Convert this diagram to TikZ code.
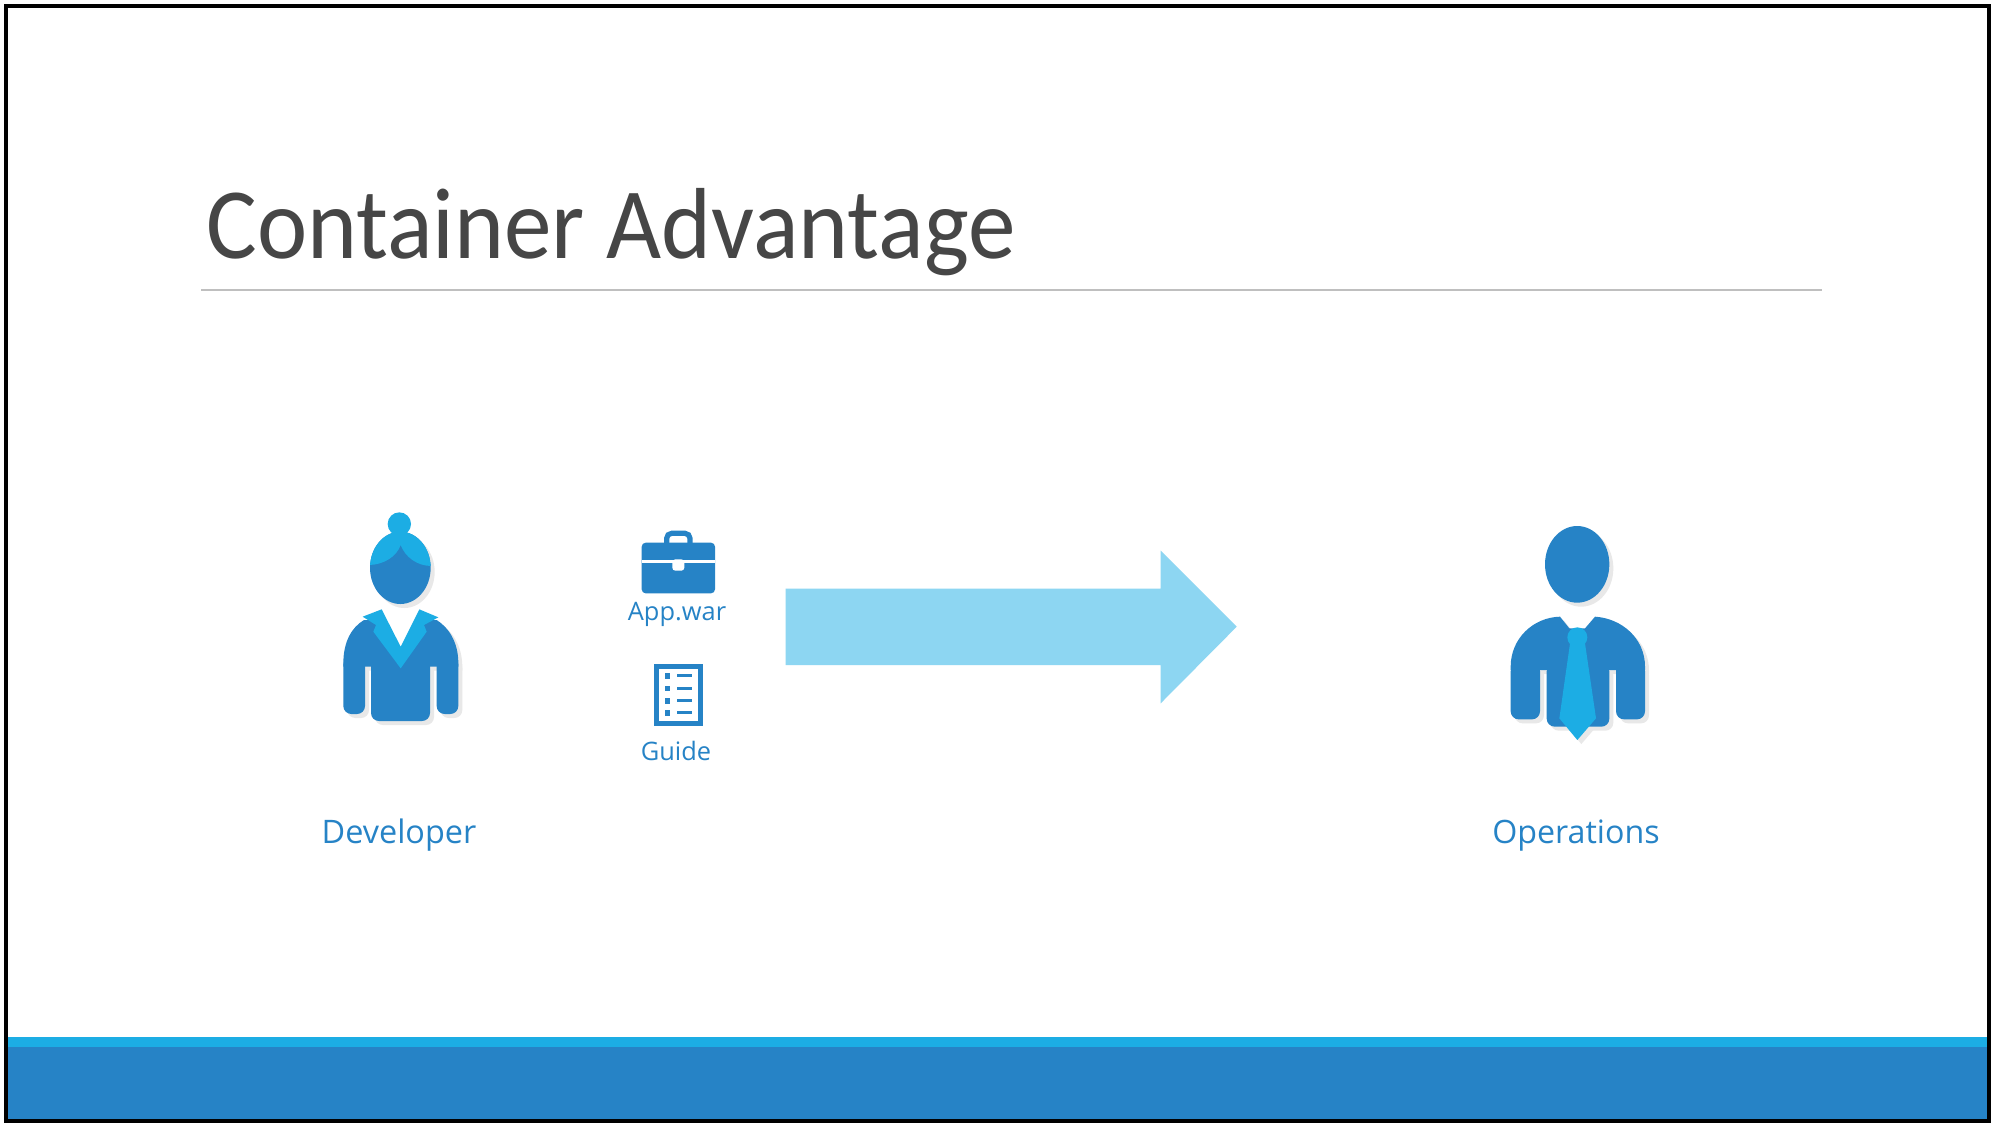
\documentclass[tikz,border=0pt]{standalone}
\usepackage{fontspec}
\setmainfont{Open Sans}
\newfontfamily\titlefont[FakeStretch=0.942]{Carlito}
\definecolor{dkblue}{HTML}{2683C6}
\definecolor{ltblue}{HTML}{1CADE4}
\definecolor{arrowblue}{HTML}{8DD6F2}
\definecolor{titlegray}{HTML}{464646}
\definecolor{rulegray}{HTML}{BFBFBF}
\definecolor{shadowgray}{HTML}{E8E8E8}
\tikzset{
  lbl/.style={text=dkblue,inner sep=0pt,anchor=center},
  zoomA/.style={shift={(300,490)},x=0.16667pt,y=-0.16667pt},
  zoomB/.style={shift={(1470,500)},x=0.16667pt,y=-0.16667pt},
  zoomC/.style={shift={(610,510)},x=0.16667pt,y=-0.16667pt},
  limb/.style={rounded corners=4pt},
}
% figure silhouettes, in crop coordinates
\newcommand{\devfigure}[1]{%
  \fill[#1] (130,520) .. controls (130,455) and (155,412) .. (192,390) -- (245,390) -- (302,500) -- (358,390) -- (410,390)
     .. controls (445,412) and (475,455) .. (475,520) -- (475,530) -- (130,530) -- cycle;
  \fill[#1,limb] (130,500) rectangle (195,672);
  \fill[#1,limb] (410,500) rectangle (475,672);
  \fill[#1,limb] (213,500) rectangle (390,693);
  \fill[#1] (301,233.5) ellipse (91 and 108.5);
}
\newcommand{\opsfigure}[1]{%
  \fill[#1] (122,500) .. controls (122,415) and (190,352) .. (270,350) -- (298,385) -- (345,385) -- (375,350)
     .. controls (455,355) and (525,415) .. (525,500) -- (525,510) -- (122,510) -- cycle;
  \fill[#1,limb] (122,490) rectangle (210,658);
  \fill[#1,limb] (438,490) rectangle (525,658);
  \fill[#1,limb] (230,490) rectangle (418,680);
  \fill[#1] (321.5,193) ellipse (96.5 and 115);
}
\begin{document}
\begin{tikzpicture}[x=0.5pt,y=-0.5pt]
\useasboundingbox (0,0) rectangle (1996,1130);
\fill[white] (0,0) rectangle (1996,1130);
% footer
\fill[ltblue] (6,1037) rectangle (1989,1048);
\fill[dkblue] (6,1047) rectangle (1989,1121);
% frame
\draw[black,line width=2.2pt] (6,6) rectangle (1989,1121);
% title
\node[anchor=base west,inner sep=0pt,text=titlegray,font=\titlefont\fontsize{50.5}{60}\selectfont] (title) at (206,258) {Container Advantage};
\draw[rulegray,line width=0.6pt] (201,290) -- (1822,290);

% developer
\begin{scope}[zoomA]
  \begin{scope}[shift={(12,12)}] \devfigure{shadowgray} \end{scope}
  \devfigure{dkblue}
  \begin{scope}
    \clip (301,233.5) ellipse (91 and 108.5);
    \fill[ltblue] (205,225) .. controls (250,225) and (290,200) .. (302,165)
       .. controls (315,200) and (350,228) .. (395,228) -- (395,120) -- (205,120) -- cycle;
  \end{scope}
  \fill[ltblue] (298,102) circle (35);
  \fill[ltblue] (188,380) -- (245,358) -- (302,470) -- (358,358) -- (415,382) -- (372,405) -- (380,425)
     -- (302,535) -- (220,425) -- (228,405) -- cycle;
\end{scope}
\node[lbl,font=\fontsize{16.2}{20}\selectfont] (dev) at (399,835) {Developer};

% briefcase
\begin{scope}[zoomC]
  \fill[dkblue,rounded corners=2pt] (95,98) rectangle (315,250);
  \draw[dkblue,line width=2.6pt,rounded corners=2.5pt] (170,100) -- (170,70) -- (240,70) -- (240,100);
  \fill[white] (95,151) rectangle (315,160);
  \fill[white,rounded corners=1.5pt] (187,148) rectangle (223,182);
  % guide
  \draw[dkblue,line width=2.3pt] (140,469) rectangle (271,641);
  \foreach \yy in {497,535,572,608}{
    \fill[dkblue] (164,\yy-8.5) rectangle (181,\yy+8.5);
    \fill[dkblue] (200,\yy-4) rectangle (247,\yy+4);
  }
\end{scope}
\node[lbl,font=\fontsize{12.7}{16}\selectfont] (war) at (677,614.5) {App.war};
\node[lbl,font=\fontsize{12.7}{16}\selectfont] (guide) at (676,751) {Guide};

% arrow
\fill[arrowblue] (785.7,588.7) -- (1160.7,588.7) -- (1160.7,550.7) -- (1236.7,626.7) -- (1160.7,703.3) -- (1160.7,665) -- (785.7,665) -- cycle;

% operations
\begin{scope}[zoomB]
  \begin{scope}[shift={(12,12)}] \opsfigure{shadowgray}
    \fill[shadowgray] (268,655) -- (322,720) -- (378,655) -- cycle;
  \end{scope}
  \opsfigure{dkblue}
  \fill[ltblue] (300,430) -- (268,655) -- (322,720) -- (378,655) -- (345,430) -- cycle;
  \fill[ltblue] (322,412) circle (30);
\end{scope}
\node[lbl,font=\fontsize{16.1}{20}\selectfont] (ops) at (1576,836) {Operations};
\end{tikzpicture}
\end{document}
